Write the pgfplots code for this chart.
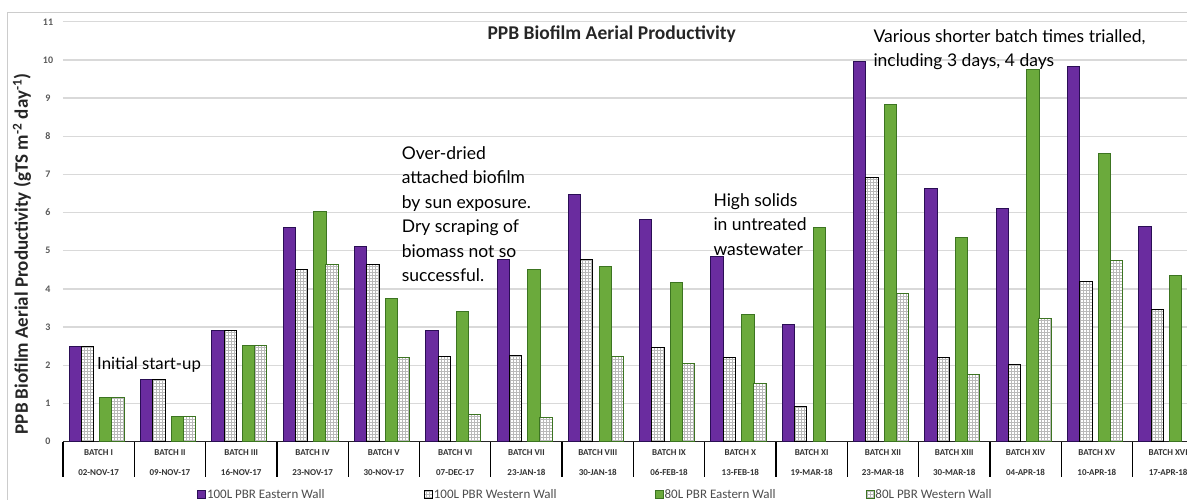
\documentclass[border=0pt]{standalone}
\usepackage{pgfplots}
\pgfplotsset{compat=1.18}
\usepackage{pgfplotstable}
\usetikzlibrary{patterns}
\usepackage{fontspec}
\setmainfont{Carlito}
\newfontfamily\annot{Lato}
\definecolor{pur}{HTML}{6A2C9F}
\definecolor{purd}{HTML}{2A0E55}
\definecolor{grn}{HTML}{6BAA3C}
\definecolor{grnd}{HTML}{3C7421}
\definecolor{gridc}{HTML}{D9D9D9}
\pgfplotstableread{
x pe pw ge gw
0 2.50 2.50 1.15 1.15
1 1.63 1.63 0.65 0.65
2 2.92 2.92 2.52 2.52
3 5.60 4.51 6.04 4.65
4 5.10 4.63 3.74 2.20
5 2.92 2.24 3.41 0.71
6 4.76 2.26 4.50 0.64
7 6.48 4.78 4.58 2.24
8 5.83 2.47 4.18 2.05
9 4.86 2.20 3.32 1.53
10 3.06 0.93 5.60 nan
11 9.97 6.92 8.82 3.89
12 6.64 2.20 5.34 1.75
13 6.11 2.03 9.74 3.23
14 9.84 4.19 7.54 4.74
15 5.63 3.47 4.36 nan
}\data
\begin{document}
\begin{tikzpicture}
\useasboundingbox (0,0) rectangle (1187pt,500pt);
\clip (0,0) rectangle (1187pt,500pt);
\draw[gray!40, line width=0.8pt] (7pt,0) -- (7pt,488pt) -- (1187pt,488pt);
\begin{axis}[
  at={(63pt,58.4pt)}, anchor=south west,
  scale only axis, width=1140.8pt, height=419.8pt,
  xmin=-0.5, xmax=15.5, ymin=0, ymax=11,
  ybar, bar width=12.3pt,
  axis x line*=bottom, axis y line*=left,
  y axis line style={draw=none},
  x axis line style={black!85, line width=1.6pt},
  xtick={0,...,15},
  xticklabels={{BATCH I\\[3pt]02-NOV-17},{BATCH II\\[3pt]09-NOV-17},{BATCH III\\[3pt]16-NOV-17},{BATCH IV\\[3pt]23-NOV-17},{BATCH V\\[3pt]30-NOV-17},{BATCH VI\\[3pt]07-DEC-17},{BATCH VII\\[3pt]23-JAN-18},{BATCH VIII\\[3pt]30-JAN-18},{BATCH IX\\[3pt]06-FEB-18},{BATCH X\\[3pt]13-FEB-18},{BATCH XI\\[3pt]19-MAR-18},{BATCH XII\\[3pt]23-MAR-18},{BATCH XIII\\[3pt]30-MAR-18},{BATCH XIV\\[3pt]04-APR-18},{BATCH XV\\[3pt]10-APR-18},{BATCH XVI\\[3pt]17-APR-18}},
  xticklabel style={font=\fontsize{9}{17.4}\selectfont\bfseries, text=black!80, align=center, anchor=north, inner sep=0pt, yshift=-7.5pt},
  ytick={0,...,11},
  yticklabel style={font=\fontsize{10}{12}\selectfont\bfseries, text=black!65, anchor=center, xshift=-15pt},
  /pgf/number format/assume math mode=true,
  major tick length=0pt,
  tick align=outside,
  extra x ticks={-0.5,0.5,...,15.5},
  extra x tick labels={},
  extra x tick style={major tick length=35pt, tick style={black, line width=1.3pt}},
  ymajorgrids, grid style={gridc, line width=1.3pt},
  ylabel={PPB Biofilm Aerial Productivity (gTS m\textsuperscript{-2} day\textsuperscript{-1})},
  ylabel style={font=\fontsize{19}{22}\selectfont\bfseries, text=black!85, at={(axis description cs:-0.0359,0.447)}, anchor=center},
  title={PPB Biofilm Aerial Productivity},
  title style={font=\fontsize{19.5}{22}\selectfont\bfseries, text=black!85, at={(axis description cs:0.481,0.9567)}, anchor=center, yshift=0pt},
  legend style={at={(axis description cs:0.1175,-0.1255)}, anchor=west, draw=none, fill=none, inner sep=0pt, legend columns=4, column sep=0pt, font=\fontsize{13}{15}\selectfont, text=black!70, nodes={inner xsep=1pt, inner ysep=0pt}, cells={anchor=west}},
]
\addplot[bar shift=-23.3pt, fill=pur, draw=purd, line width=1pt, forget plot] table[x=x,y=pe]{\data};
\addplot[bar shift=-11pt, fill=white, postaction={pattern=grid, pattern color=gray!55}, draw=black, line width=1pt, forget plot] table[x=x,y=pw]{\data};
\addplot[bar shift=7.5pt, fill=grn, draw=grnd, line width=1pt, forget plot] table[x=x,y=ge]{\data};
\addplot[bar shift=19.5pt, fill=white, postaction={pattern=grid, pattern color=gray!55}, draw=grnd, line width=1pt, forget plot] table[x=x,y=gw]{\data};
\addlegendimage{legend image code/.code={\draw[fill=pur,draw=purd,line width=0.8pt] (0pt,-4pt) rectangle (8pt,4pt);}}
\addlegendentry{\makebox[216pt][l]{100L PBR Eastern Wall}}
\addlegendimage{legend image code/.code={\draw[fill=white,postaction={pattern=grid, pattern color=gray!55},draw=black,line width=0.8pt] (0pt,-4pt) rectangle (8pt,4pt);}}
\addlegendentry{\makebox[220pt][l]{100L PBR Western Wall}}
\addlegendimage{legend image code/.code={\draw[fill=grn,draw=grnd,line width=0.8pt] (0pt,-4pt) rectangle (8pt,4pt);}}
\addlegendentry{\makebox[200pt][l]{80L PBR Eastern Wall}}
\addlegendimage{legend image code/.code={\draw[fill=white,postaction={pattern=grid, pattern color=gray!55},draw=grnd,line width=0.8pt] (0pt,-4pt) rectangle (8pt,4pt);}}
\addlegendentry{80L PBR Western Wall}
\end{axis}
\begin{scope}[every node/.style={anchor=base west, inner sep=0pt, font=\annot\fontsize{17.5}{20}\selectfont, text=black}]
\node at (97pt,130.5pt) {\fontsize{16.8}{20}\selectfont Initial start-up};
\node at (401.7pt,340.5pt) {Over-dried};
\node at (401.7pt,316pt) {attached biofilm};
\node at (401.7pt,291.5pt) {by sun exposure.};
\node at (401.7pt,267pt) {Dry scraping of};
\node at (401.7pt,242.5pt) {biomass not so};
\node at (401.7pt,218pt) {successful.};
\node at (713.3pt,293.3pt) {High solids};
\node at (713.3pt,269pt) {in untreated};
\node at (713.3pt,244.5pt) {wastewater};
\node at (873.3pt,457.7pt) {Various shorter batch times trialled,};
\node at (873.3pt,433.3pt) {including 3 days, 4 days};
\end{scope}
\end{tikzpicture}
\end{document}
